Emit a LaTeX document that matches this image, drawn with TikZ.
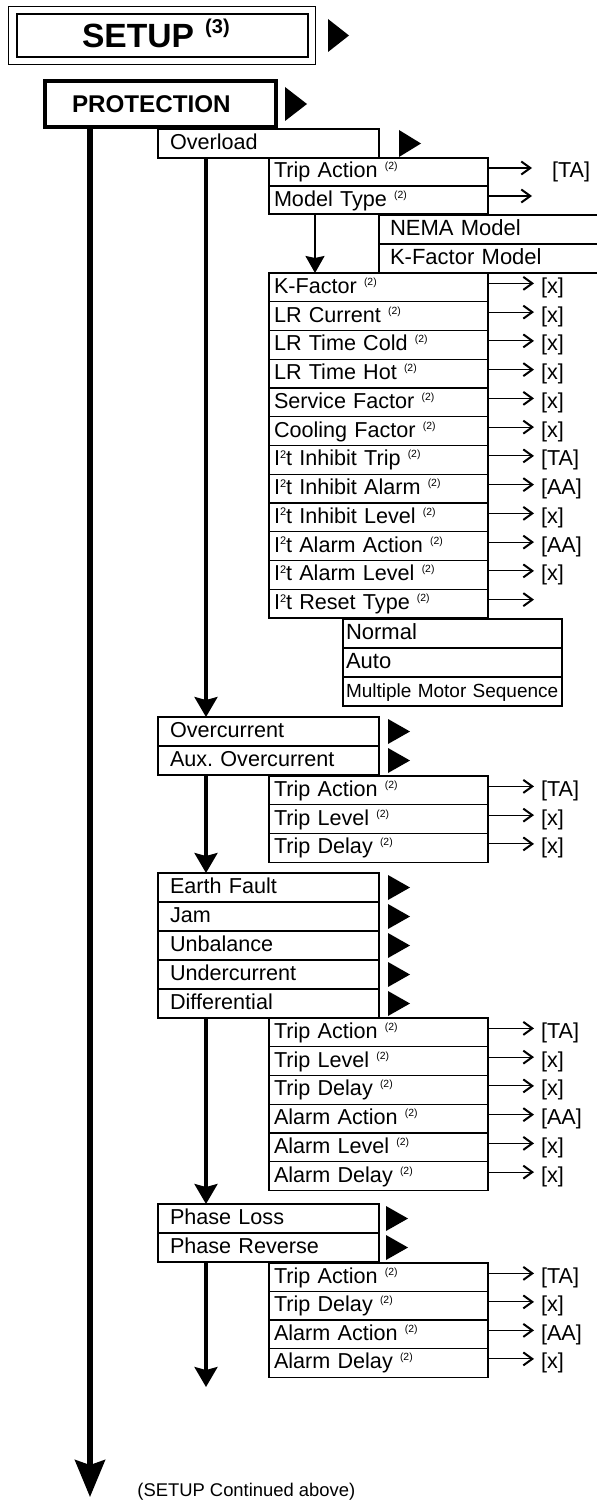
\documentclass[tikz,border=0pt]{standalone}
\usepackage{fontspec}
\setmainfont{Liberation Sans}
\usetikzlibrary{arrows.meta,positioning}
\frenchspacing
\newcommand{\lbl}{\fontsize{10.8}{12}\selectfont}
\newcommand{\nb}{~{\fontsize{5.2}{6}\selectfont\raisebox{4pt}{(2)}}}
\newcommand{\Isq}{I\raisebox{3.7pt}{\fontsize{5.5}{6}\selectfont 2}t}
\tikzset{
  setupbox/.style={draw, line width=1.3pt, anchor=north west, inner xsep=32.5pt, inner ysep=0pt,
    outer sep=0pt, text width=80.5pt, minimum height=21.5pt, text height=12pt, text depth=0pt,
    align=left, font=\fontsize{16.8}{18}\selectfont\bfseries},
  protbox/.style={draw, line width=2pt, anchor=north west, inner xsep=13.5pt, inner ysep=0pt,
    outer sep=0pt, text width=88.5pt, minimum height=23pt, text height=8.6pt, text depth=0pt,
    align=left, font=\fontsize{12.1}{14}\selectfont\bfseries},
  grp/.style={draw, line width=1.4pt, anchor=north west, inner xsep=6pt, inner ysep=0pt,
    outer sep=0pt, text width=98.5pt, minimum height=14.5pt, text height=8.5pt, text depth=2.2pt,
    align=left, font=\lbl},
  item/.style={draw, line width=0.6pt, anchor=north west, inner xsep=2.5pt, inner ysep=0pt,
    outer sep=0pt, text width=104.5pt, minimum height=14.375pt, text height=8.5pt, text depth=2.5pt,
    align=left, font=\lbl},
  model/.style={item, inner xsep=5.5pt, text width=99.5pt, minimum height=14.5pt, font=\fontsize{11}{12}\selectfont},
  opt/.style={item, inner xsep=1.5pt, text width=106.5pt, minimum height=14.5pt, font=\fontsize{11}{12}\selectfont},
  val/.style={inner xsep=3.5pt, inner ysep=0pt, outer sep=0pt, text height=8.5pt, text depth=2.5pt, font=\lbl},
  harr/.style={line width=0.6pt, -{Straight Barb[length=4.5pt,width=6.5pt,line width=1pt]}},
  thinflow/.style={line width=1pt, -{Stealth[length=8.5pt,width=9.5pt,inset=1pt]}},
  flow/.style={line width=1.6pt, -{Stealth[length=10pt,width=11.5pt,inset=1.5pt]}},
  mainflow/.style={line width=2.6pt, -{Stealth[length=18.5pt,width=15pt,inset=2.5pt]}}
}
\begin{document}
\begin{tikzpicture}[x=0.5pt,y=-0.5pt]
    \useasboundingbox (0,0) rectangle (597,1503);

    % 绘制 SETUP 标题
    \node[setupbox] (setup) at (17,14) {SETUP \raisebox{7pt}{\fontsize{10}{12}\selectfont(3)}};
    \draw[line width=0.5pt] ([shift={(-4.5pt,3.5pt)}]setup.north west) rectangle ([shift={(3.5pt,-4pt)}]setup.south east);
    \fill ([xshift=10pt,yshift=8.25pt]setup.east) -- ++(10.5pt,-8.25pt) -- ++(-10.5pt,-8.25pt) -- cycle;

    % 绘制 PROTECTION
    \node[protbox] (prot) at (45,81) {PROTECTION};
    \fill ([xshift=4.5pt,yshift=8.5pt]prot.east) -- ++(11pt,-8.5pt) -- ++(-11pt,-8.5pt) -- cycle;
    \coordinate (main-end) at (90,1497);
    \draw[mainflow] (prot.south -| main-end) -- (main-end);
    \node[anchor=base west, inner sep=0pt, font=\fontsize{9.2}{11}\selectfont] (cont) at (137,1496) {(SETUP Continued above)};

    % 绘制 Overload
    \node[grp] (ol) at (158,129) {Overload};
    \fill ([xshift=10pt,yshift=6.75pt]ol.east) -- ++(11pt,-6.75pt) -- ++(-11pt,-6.75pt) -- cycle;
    \node[item, minimum height=14pt] (op-1) at (269,158) {Trip Action\nb};
    \node[item, minimum height=14pt] (op-2) at (269,186) {Model Type\nb};
    \node[val, inner xsep=10pt, right=22pt of op-1] (op-v) {[TA]};
    \coordinate[right=22pt of op-2] (op-e);
    \draw[harr] ([yshift=2pt]op-1.east) -- ([yshift=2pt]op-v.west);
    \draw[harr] ([yshift=2pt]op-2.east) -- ([yshift=2pt]op-e);

    % 模型类型
    \node[model] (nema) at (379,215) {NEMA Model};
    \node[model] (kfm) at (379,244) {K-Factor Model};

    % Overload 参数
    \foreach \lab/\val [count=\i] in {K-Factor/[x], LR Current/[x], LR Time Cold/[x], LR Time Hot/[x],
        Service Factor/[x], Cooling Factor/[x], \Isq{} Inhibit Trip/[TA], \Isq{} Inhibit Alarm/[AA],
        \Isq{} Inhibit Level/[x], \Isq{} Alarm Action/[AA], \Isq{} Alarm Level/[x], \Isq{} Reset Type/{}}{
      \node[item] (ov-\i) at (269,{273+28.75*(\i-1)}) {\lab\nb};
      \node[val, right=23pt of ov-\i] (ov-v\i) {\val};
      \draw[harr] ([yshift=2pt]ov-\i.east) -- ([yshift=2pt]ov-v\i.west);
    }
    \draw[thinflow] ([xshift=-31.75pt]op-2.south) -- ([xshift=-31.75pt]ov-1.north);

    % 复位类型
    \node[opt] (rt-1) at (343,619) {Normal};
    \node[opt] (rt-2) at (343,648) {Auto};
    \node[opt, font=\fontsize{9.5}{11}\selectfont] (rt-3) at (343,677) {Multiple Motor Sequence};

    % 绘制 Overcurrent
    \foreach \lab [count=\i] in {Overcurrent, Aux. Overcurrent}{
      \node[grp] (oc-\i) at (158,{717+29*(\i-1)}) {\lab};
      \fill ([xshift=4.5pt,yshift=6.25pt]oc-\i.east) -- ++(11pt,-6.25pt) -- ++(-11pt,-6.25pt) -- cycle;
    }
    \draw[flow] ([xshift=-31.25pt]ol.south) -- ([xshift=-31.25pt]oc-1.north);
    \foreach \lab/\val [count=\i] in {Trip Action/[TA], Trip Level/[x], Trip Delay/[x]}{
      \node[item] (ac-\i) at (269,{776+28.75*(\i-1)}) {\lab\nb};
      \node[val, right=23pt of ac-\i] (ac-v\i) {\val};
      \draw[harr] ([yshift=2pt]ac-\i.east) -- ([yshift=2pt]ac-v\i.west);
    }

    % 绘制 Earth Fault ... Differential
    \foreach \lab [count=\i] in {Earth Fault, Jam, Unbalance, Undercurrent, Differential}{
      \node[grp] (ef-\i) at (158,{873+29*(\i-1)}) {\lab};
      \fill ([xshift=4.5pt,yshift=6.25pt]ef-\i.east) -- ++(11pt,-6.25pt) -- ++(-11pt,-6.25pt) -- cycle;
    }
    \draw[flow] ([xshift=-31.25pt]oc-2.south) -- ([xshift=-31.25pt]ef-1.north);
    \foreach \lab/\val [count=\i] in {Trip Action/[TA], Trip Level/[x], Trip Delay/[x],
        Alarm Action/[AA], Alarm Level/[x], Alarm Delay/[x]}{
      \node[item] (df-\i) at (269,{1018+28.75*(\i-1)}) {\lab\nb};
      \node[val, right=23pt of df-\i] (df-v\i) {\val};
      \draw[harr] ([yshift=2pt]df-\i.east) -- ([yshift=2pt]df-v\i.west);
    }

    % 绘制 Phase Loss / Phase Reverse
    \foreach \lab [count=\i] in {Phase Loss, Phase Reverse}{
      \node[grp] (ph-\i) at (158,{1204+29*(\i-1)}) {\lab};
      \fill ([xshift=3.5pt,yshift=6.25pt]ph-\i.east) -- ++(11pt,-6.25pt) -- ++(-11pt,-6.25pt) -- cycle;
    }
    \draw[flow] ([xshift=-31.25pt]ef-5.south) -- ([xshift=-31.25pt]ph-1.north);
    \foreach \lab/\val [count=\i] in {Trip Action/[TA], Trip Delay/[x], Alarm Action/[AA], Alarm Delay/[x]}{
      \node[item] (pr-\i) at (269,{1263+28.5*(\i-1)}) {\lab\nb};
      \node[val, right=23pt of pr-\i] (pr-v\i) {\val};
      \draw[harr] ([yshift=2pt]pr-\i.east) -- ([yshift=2pt]pr-v\i.west);
    }
    \coordinate (ph-end) at (206,1387);
    \draw[flow] ([xshift=-31.25pt]ph-2.south) -- (ph-end);
\end{tikzpicture}
\end{document}
